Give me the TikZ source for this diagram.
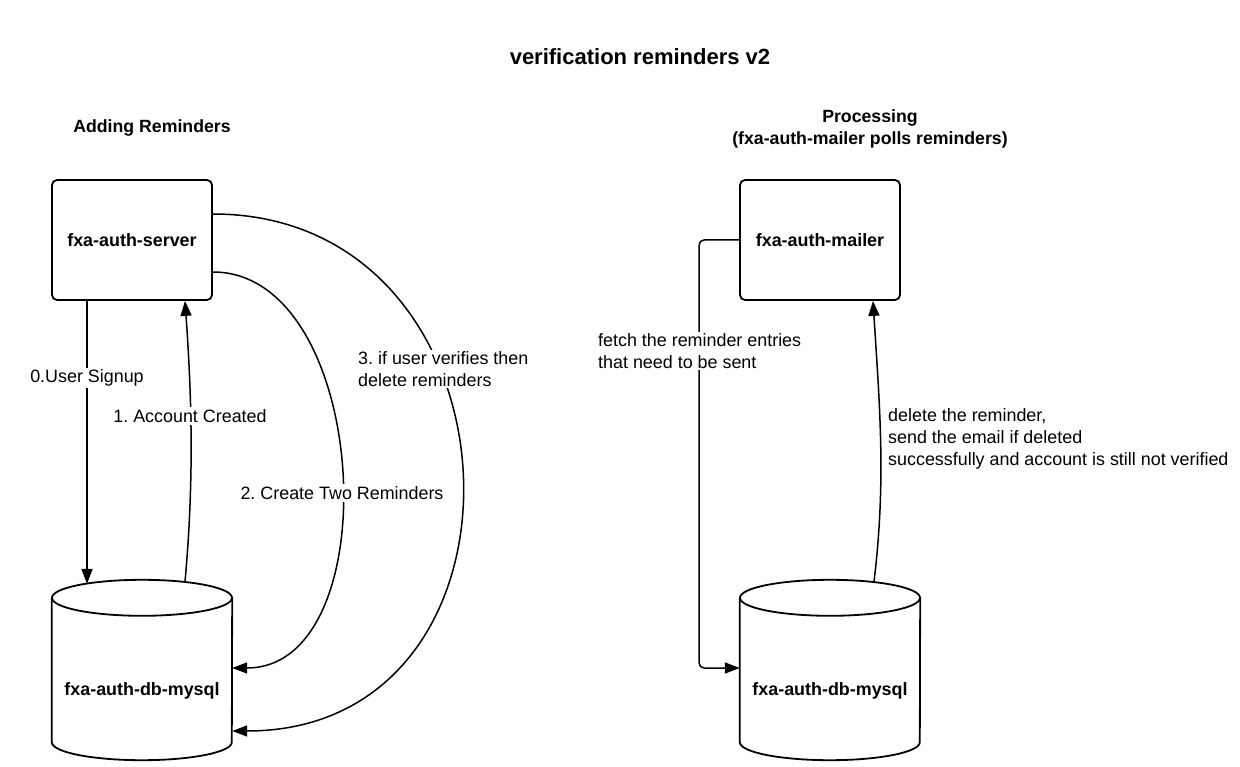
\documentclass[tikz,border=0pt]{standalone}
\usepackage{fontspec}
\setmainfont{Liberation Sans}
\usetikzlibrary{arrows.meta}
\frenchspacing
\begin{document}
\begin{tikzpicture}[x=1pt,y=-1pt,
  box/.style={draw, line width=1.8pt, rounded corners=5pt, minimum width=160pt, minimum height=120pt, inner sep=0pt, font=\bfseries\fontsize{17.9}{21}\selectfont},
  dbbox/.style={minimum width=180pt, minimum height=180pt, inner sep=0pt},
  cyl/.style={line width=1.8pt},
  conn/.style={line width=1.5pt, -{Triangle[length=15pt,width=11pt]}},
  lbl/.style={fill=white, inner sep=2pt, font=\fontsize{17.9}{21.7}\selectfont, align=left},
  dbtext/.style={font=\bfseries\fontsize{17.9}{21}\selectfont},
  head/.style={font=\bfseries\fontsize{17.7}{21.5}\selectfont, align=center}
]
\useasboundingbox (0,0) rectangle (1240,767);
\node[font=\bfseries\fontsize{22}{26}\selectfont] (title) at (640,57) {verification reminders v2};
\node[head] (hl) at (152,128) {Adding Reminders};
\node[head] (hr) at (870,129) {Processing\\(fxa-auth-mailer polls reminders)};

% left side
\node[box] (srv) at (132,240) {fxa-auth-server};
\node[dbbox] (db1) at (142,670) {};
\draw[cyl] ([yshift=-18pt]db1.north west) -- ([yshift=18pt]db1.south west)
  arc[start angle=180,end angle=360,x radius=90pt,y radius=18pt]
  -- ([yshift=-18pt]db1.north east);
\draw[cyl] ([yshift=-18pt]db1.north) ellipse[x radius=90pt,y radius=18pt];
\node[dbtext] (db1t) at (142,691) {fxa-auth-db-mysql};

\draw[conn] ([xshift=-45pt]srv.south) -- ([xshift=-55pt,yshift=-4pt]db1.north);
\draw[conn] ([xshift=43pt,yshift=-2pt]db1.north) .. controls +(9,-100) and +(7,100) .. ([xshift=53pt]srv.south);
\draw[conn] ([yshift=-32pt]srv.east) .. controls +(158,0) and +(158,0) .. ([yshift=2pt]db1.east);
\draw[conn] ([yshift=26pt]srv.east) .. controls +(318,0) and +(319,0) .. ([yshift=-61pt]db1.east);

\node[lbl] (l0) at (87,378) {0.User Signup};
\node[lbl] (l1) at (190,416) {1. Account Created};
\node[lbl] (l2) at (342,493) {2. Create Two Reminders};
\node[lbl, anchor=west] (l3) at (356,369) {3. if user verifies then\\delete reminders};

% right side
\node[box] (mail) at (820,240) {fxa-auth-mailer};
\node[dbbox] (db2) at (830,670) {};
\draw[cyl] ([yshift=-18pt]db2.north west) -- ([yshift=18pt]db2.south west)
  arc[start angle=180,end angle=360,x radius=90pt,y radius=18pt]
  -- ([yshift=-18pt]db2.north east);
\draw[cyl] ([yshift=-18pt]db2.north) ellipse[x radius=90pt,y radius=18pt];
\node[dbtext] (db2t) at (830,691) {fxa-auth-db-mysql};

\draw[conn, rounded corners=5pt] (mail.west) -- ++(-40,0) |- ([yshift=2pt]db2.west);
\draw[conn] ([xshift=44pt,yshift=-2pt]db2.north) .. controls +(12,-100) and +(7,110) .. ([xshift=53pt]mail.south);

\node[lbl, anchor=west] (lf) at (596,351) {fetch the reminder entries\\that need to be sent};
\node[lbl, anchor=west] (ld) at (886,439) {delete the reminder,\\send the email if deleted\\successfully and account is still not verified};
\end{tikzpicture}
\end{document}
